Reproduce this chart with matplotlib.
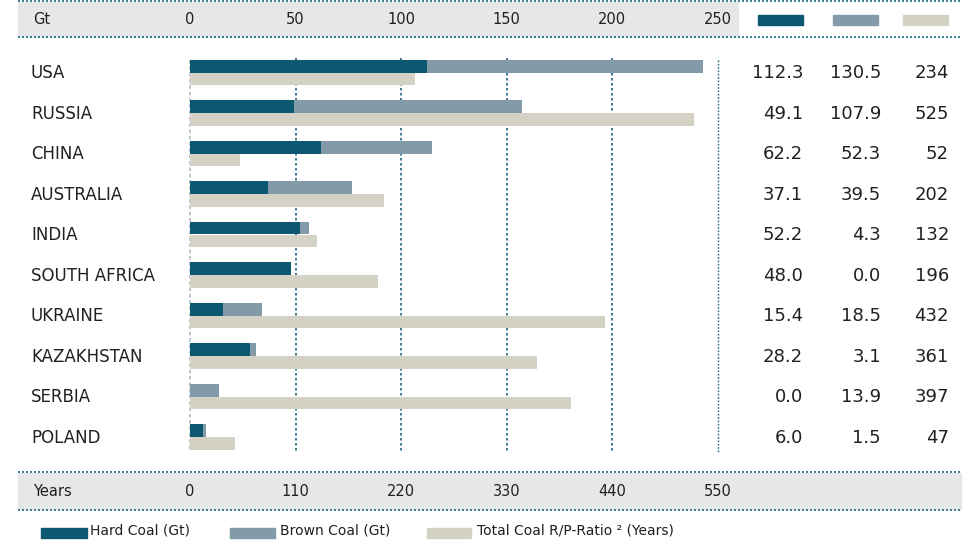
import matplotlib
matplotlib.use("Agg")
import matplotlib.pyplot as plt
from matplotlib.patches import Rectangle
from matplotlib.lines import Line2D
from matplotlib.transforms import blended_transform_factory

# ---- data ----
countries = ["USA", "RUSSIA", "CHINA", "AUSTRALIA", "INDIA", "SOUTH AFRICA",
             "UKRAINE", "KAZAKHSTAN", "SERBIA", "POLAND"]
hard_coal = [112.3, 49.1, 62.2, 37.1, 52.2, 48.0, 15.4, 28.2, 0.0, 6.0]
brown_coal = [130.5, 107.9, 52.3, 39.5, 4.3, 0.0, 18.5, 3.1, 13.9, 1.5]
rp_ratio = [234, 525, 52, 202, 132, 196, 432, 361, 397, 47]
gt_ticks = [0, 50, 100, 150, 200, 250]
year_ticks = [0, 110, 220, 330, 440, 550]
legend_labels = ["Hard Coal (Gt)", "Brown Coal (Gt)", "Total Coal R/P-Ratio ² (Years)"]

# ---- style ----
C_HARD = "#0b5870"
C_BROWN = "#839ba8"
C_RP = "#d3d2c4"
C_BAND = "#e6e7e8"
C_DOT = "#1d6580"
C_TXT = "#231f20"
plt.rcParams["font.family"] = ["DejaVu Sans"]

W, H = 971, 542
fig = plt.figure(figsize=(W / 100, H / 100), dpi=100)

def fx(x):
    return x / W

def fy(y):
    return 1 - y / H

# main axes: x 190..718 px, rows centred at 72.5 + 40.5*i px
top_px, bot_px = 52.25, 457.25
ax = fig.add_axes([fx(190), fy(bot_px), fx(718) - fx(190), (bot_px - top_px) / H])
ax.set_xlim(0, 250)
ax.set_ylim(len(countries) - 0.5, -0.5)
ax.axis("off")
ax2 = ax.twiny()
ax2.set_xlim(0, 550)
ax2.set_ylim(len(countries) - 0.5, -0.5)
ax2.axis("off")

ypos = list(range(len(countries)))
bh = 0.32

# grid lines
ax.vlines(gt_ticks[1:-1], -0.35, len(countries) - 0.62, colors=C_DOT,
          linestyles=(0, (1.5, 1.5)), linewidth=1.2, zorder=0)
ax.vlines([0], -0.32, len(countries) - 0.62, colors="#b9bec8",
          linestyles=(0, (2, 1.5)), linewidth=1.3, zorder=0, clip_on=False)
ax.vlines([gt_ticks[-1]], -0.32, len(countries) - 0.62, colors=C_DOT,
          linestyles=(0, (1.2, 1.2)), linewidth=1.0, zorder=0, clip_on=False)

yh = [y - bh / 2 for y in ypos]
yr = [y + bh / 2 for y in ypos]
ax.barh(yh, hard_coal, height=bh, color=C_HARD, zorder=2)
ax.barh(yh, brown_coal, left=hard_coal, height=bh, color=C_BROWN, zorder=2)
ax2.barh(yr, rp_ratio, height=bh, color=C_RP, zorder=2)

# country labels and table values
tr_lab = blended_transform_factory(fig.transFigure, ax.transData)
for i, name in enumerate(countries):
    fig.text(fx(31), i + 0.02, name, transform=tr_lab, ha="left", va="center",
             fontsize=12, color=C_TXT)
    fig.text(fx(803), i + 0.02, f"{hard_coal[i]:.1f}", transform=tr_lab, ha="right",
             va="center", fontsize=13, color=C_TXT)
    fig.text(fx(881), i + 0.02, f"{brown_coal[i]:.1f}", transform=tr_lab, ha="right",
             va="center", fontsize=13, color=C_TXT)
    fig.text(fx(949), i + 0.02, f"{rp_ratio[i]}", transform=tr_lab, ha="right",
             va="center", fontsize=13, color=C_TXT)

# top band
fig.patches.append(Rectangle((fx(18), fy(36)), fx(738) - fx(18), (36 - 2) / H,
                             transform=fig.transFigure, color=C_BAND, zorder=0))
for y in (1, 37):
    fig.lines.append(Line2D([fx(18), fx(961)], [fy(y), fy(y)], transform=fig.transFigure,
                            color=C_DOT, linestyle=(0, (1.2, 1.2)), linewidth=1.2))
fig.text(fx(33), fy(19), "Gt", ha="left", va="center", fontsize=10.5, color=C_TXT)
tr_top = blended_transform_factory(ax.transData, fig.transFigure)
for t in gt_ticks:
    fig.text(t, fy(19), str(t), transform=tr_top, ha="center", va="center",
             fontsize=10.5, color=C_TXT)
for (x0, x1), c in zip([(758, 803), (833, 878), (903, 948)], [C_HARD, C_BROWN, C_RP]):
    fig.patches.append(Rectangle((fx(x0), fy(25)), fx(x1) - fx(x0), 10 / H,
                                 transform=fig.transFigure, color=c))

# bottom band
fig.patches.append(Rectangle((fx(18), fy(509)), fx(961) - fx(18), (509 - 473) / H,
                             transform=fig.transFigure, color=C_BAND, zorder=0))
for y in (472, 510):
    fig.lines.append(Line2D([fx(18), fx(961)], [fy(y), fy(y)], transform=fig.transFigure,
                            color=C_DOT, linestyle=(0, (1.2, 1.2)), linewidth=1.2))
fig.text(fx(33), fy(491), "Years", ha="left", va="center", fontsize=10.5, color=C_TXT)
tr_bot = blended_transform_factory(ax2.transData, fig.transFigure)
for t in year_ticks:
    fig.text(t, fy(491), str(t), transform=tr_bot, ha="center", va="center",
             fontsize=10.5, color=C_TXT)

# bottom legend
for (x0, x1, xt), c, lab in zip([(41, 87, 90), (230, 275, 280), (427, 471, 477)],
                                [C_HARD, C_BROWN, C_RP], legend_labels):
    fig.patches.append(Rectangle((fx(x0), fy(538)), fx(x1) - fx(x0), 10 / H,
                                 transform=fig.transFigure, color=c))
    fig.text(fx(xt), fy(531), lab, ha="left", va="center", fontsize=10, color=C_TXT)

fig.savefig("out.png", dpi=100)
